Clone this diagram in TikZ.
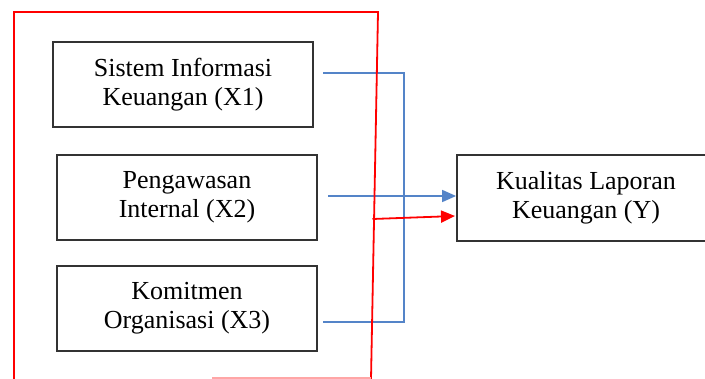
\documentclass[tikz,border=0pt]{standalone}
\usepackage{fontspec}
\setmainfont{Liberation Serif}
\usetikzlibrary{arrows.meta}
\definecolor{garisbiru}{RGB}{84,132,200}
\begin{document}
\begin{tikzpicture}[x=0.5pt,y=-0.5pt,
    kotak/.style={draw=black!80,line width=0.9pt,align=center,inner sep=0pt,
        font=\fontsize{13}{14.5}\selectfont},
    biru/.style={draw=garisbiru,line width=0.8pt},
    merah/.style={draw=red,line width=0.9pt}]
                \useasboundingbox (0,0) rectangle (705,379);
                % variabel bebas
                \node[kotak,minimum width=130pt,minimum height=42.5pt] (x1) at (183,84.5) {Sistem Informasi\\Keuangan (X1)};
                \node[kotak,minimum width=130pt,minimum height=42.5pt] (x2) at (187,197.5) {Pengawasan\\Internal (X2)};
                \node[kotak,minimum width=130pt,minimum height=42.5pt] (x3) at (187,308.5) {Komitmen\\Organisasi (X3)};
                % variabel terikat
                \node[kotak,minimum width=129pt,minimum height=43pt] (y) at (586,198) {Kualitas Laporan\\Keuangan (Y)};
                % garis parsial (biru)
                \coordinate (b1) at (323,73);
                \coordinate (b3) at (323,322);
                \coordinate (t1) at (404,73);
                \coordinate (t3) at (404,322);
                \draw[biru] (b1) -- (t1) -- (t3) -- (b3);
                \draw[biru,-{Triangle[length=7pt,width=6pt]}] (328,196) -- (y.west |- 0,196);
                % garis simultan (merah)
                \draw[merah] (14,379) -- (14,12) -- (378,12) -- (371,379);
                \draw[red!35,line width=0.9pt] (371,378) -- (212,378);
                \coordinate (m) at (372.5,219);
                \coordinate (m2) at (455,216);
                \draw[merah,-{Triangle[length=7pt,width=6pt]}] (m) -- (m2);
            \end{tikzpicture}
\end{document}
